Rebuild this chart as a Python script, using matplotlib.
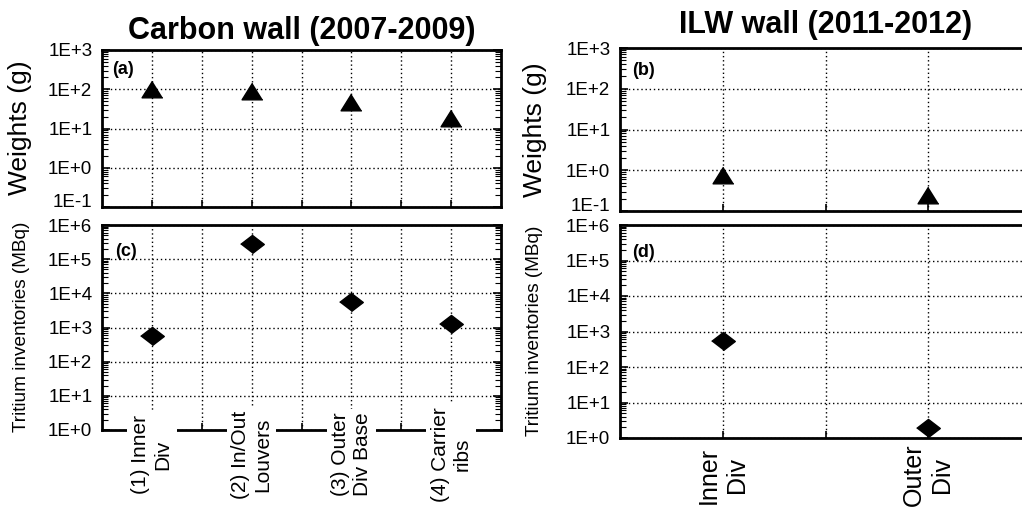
import matplotlib
matplotlib.use("Agg")
import matplotlib.pyplot as plt
from matplotlib.ticker import FixedLocator, FixedFormatter, LogLocator, NullFormatter

plt.rcParams['font.family'] = ['Liberation Sans', 'DejaVu Sans']

# ---- data ----
carbon_categories = ["(1) Inner\nDiv", "(2) In/Out\nLouvers", "(3) Outer\nDiv Base", "(4) Carrier\nribs"]
carbon_weights = [100, 92, 48, 18]
carbon_tritium = [560, 2.7e5, 5.4e3, 1.3e3]

ilw_categories = ["Inner\nDiv", "Outer\nDiv"]
ilw_weights = [0.75, 0.25]
ilw_tritium = [550, 1.9]

weight_ticks = [0.1, 1, 10, 100, 1000]
weight_labels = ["1E-1", "1E+0", "1E+1", "1E+2", "1E+3"]
tritium_ticks = [1, 10, 100, 1e3, 1e4, 1e5, 1e6]
tritium_labels = ["1E+0", "1E+1", "1E+2", "1E+3", "1E+4", "1E+5", "1E+6"]

titles = ["Carbon wall (2007-2009)", "ILW wall (2011-2012)"]
panel_tags = ["(a)", "(b)", "(c)", "(d)"]

W, H = 1022, 509
fig = plt.figure(figsize=(W / 100, H / 100), dpi=100)


def box(x0, y0, x1, y1):
    return [x0 / W, (H - y1) / H, (x1 - x0) / W, (y1 - y0) / H]


ax_a = fig.add_axes(box(102, 50, 501, 207))
ax_c = fig.add_axes(box(102, 225, 501, 430))
ax_b = fig.add_axes(box(620, 48, 1031, 211))
ax_d = fig.add_axes(box(620, 225, 1031, 438))

tri = [(0, 0.8), (-1, -0.8), (1, -0.8)]
dia = [(-1.3, 0), (0, 1), (1.3, 0), (0, -1)]


def style(ax, ticks, labels, ylim, xmax):
    ax.set_yscale('log')
    ax.set_ylim(*ylim)
    ax.set_xlim(0.5, xmax)
    ax.yaxis.set_major_locator(FixedLocator(ticks))
    ax.yaxis.set_major_formatter(FixedFormatter(labels))
    ax.yaxis.set_minor_locator(LogLocator(base=10, subs=range(2, 10), numticks=20))
    ax.yaxis.set_minor_formatter(NullFormatter())
    xt = [0.5 + 0.5 * i for i in range(1, int((xmax - 0.5) / 0.5))]
    ax.set_xticks(xt)
    ax.set_xticklabels([])
    ax.tick_params(axis='y', which='major', direction='in', length=6, width=1.2,
                   right=True, labelsize=13.5, pad=7)
    ax.tick_params(axis='y', which='minor', direction='in', length=4, width=0.8, right=True)
    ax.tick_params(axis='x', which='major', direction='in', length=5, width=1.2)
    ax.grid(True, which='major', color='black', linestyle=(0, (1, 2)), linewidth=1.0)
    for s in ax.spines.values():
        s.set_linewidth(2)


style(ax_a, weight_ticks, weight_labels, (0.1, 1000), 4.5)
style(ax_c, tritium_ticks, tritium_labels, (1, 1e6), 4.5)
style(ax_b, weight_ticks, weight_labels, (0.1, 1000), 2.5)
style(ax_d, tritium_ticks, tritium_labels, (1, 1e6), 2.5)

# lowest label of the upper panels sits on the axis corner
for ax in (ax_a, ax_b):
    ax.yaxis.get_major_ticks()[0].label1.set_verticalalignment('baseline')

xc = list(range(1, len(carbon_categories) + 1))
xi = list(range(1, len(ilw_categories) + 1))

ax_a.plot(xc, carbon_weights, linestyle='none', marker=tri, markersize=15, color='black', zorder=5, clip_on=False)
ax_c.plot(xc, carbon_tritium, linestyle='none', marker=dia, markersize=17, color='black', zorder=5, clip_on=False)
ax_b.plot(xi, ilw_weights, linestyle='none', marker=tri, markersize=15, color='black', zorder=5, clip_on=False)
ax_d.plot(xi, ilw_tritium, linestyle='none', marker=dia, markersize=17, color='black', zorder=5, clip_on=False)

# titles
ax_a.set_title(titles[0], fontsize=22, fontweight='bold', pad=8)
ax_b.text(826 / W, 1 - 25 / H, titles[1], transform=fig.transFigure, fontsize=22,
          fontweight='bold', ha='center', va='center')

# y labels
fig.text(20 / W, 1 - 128 / H, "Weights (g)", rotation=90, fontsize=19, ha='center', va='center')
fig.text(535 / W, 1 - 130 / H, "Weights (g)", rotation=90, fontsize=19, ha='center', va='center')
fig.text(22 / W, 1 - 327 / H, "Tritium inventories (MBq)", rotation=90, fontsize=13.7, ha='center', va='center')
fig.text(534 / W, 1 - 331 / H, "Tritium inventories (MBq)", rotation=90, fontsize=13.7, ha='center', va='center')

# panel tags
for ax, tag, (tx, ty) in zip([ax_a, ax_b, ax_c, ax_d], panel_tags,
                             [(0.025, 0.873), (0.029, 0.865), (0.033, 0.87), (0.029, 0.873)]):
    ax.text(tx, ty, tag, transform=ax.transAxes, fontsize=13, fontweight='bold',
            ha='left', va='center', zorder=6)

# category labels
for x, lab in zip(xc, carbon_categories):
    ax_c.text(x, -0.12, lab, transform=ax_c.get_xaxis_transform(), rotation=90,
              fontsize=15, ha='center', va='center', multialignment='center',
              bbox=dict(facecolor='white', edgecolor='none', pad=3), zorder=10, clip_on=False)
for x, lab in zip(xi, ilw_categories):
    ax_d.text(x, -0.174, lab, transform=ax_d.get_xaxis_transform(), rotation=90,
              fontsize=18, ha='center', va='center', multialignment='center', clip_on=False)

fig.savefig("out.png", dpi=100)
